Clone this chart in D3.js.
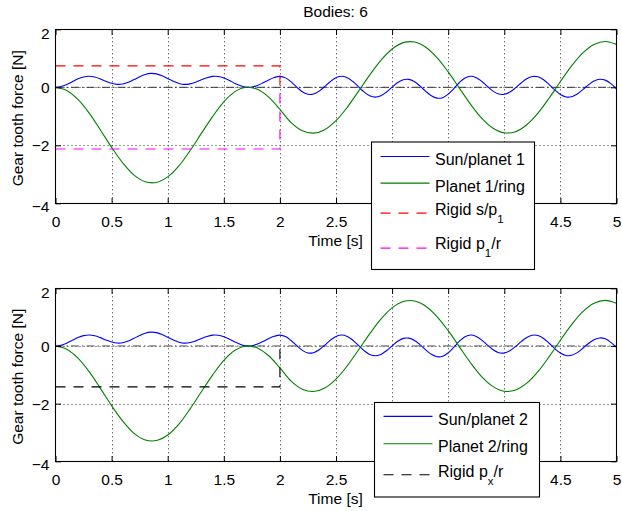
<!DOCTYPE html>
<html><head><meta charset="utf-8">
<script src="https://cdn.jsdelivr.net/npm/d3@7"></script>
<style>
html,body{margin:0;padding:0;background:#fff;}
svg{display:block;font-family:"Liberation Sans",Arial,Helvetica,sans-serif;}
</style></head><body>
<svg id="chart" width="622" height="511"></svg>
<script>
// ---------------- data ----------------
const title = "Bodies: 6";
const xLabel = "Time [s]";
const yLabel = "Gear tooth force [N]";
const xTicks = [0, 0.5, 1, 1.5, 2, 2.5, 3, 3.5, 4, 4.5, 5];
const yTicks = [-4, -2, 0, 2];

const timeFine = [0,0.05,0.1,0.15,0.2,0.25,0.3,0.35,0.4,0.45,
  0.5,0.55,0.6,0.65,0.7,0.75,0.8,0.85,0.9,0.95,
  1,1.05,1.1,1.15,1.2,1.25,1.3,1.35,1.4,1.45,
  1.5,1.55,1.6,1.65,1.7,1.75,1.8,1.85,1.9,1.95,
  2,2.05,2.1,2.15,2.2,2.25,2.3,2.35,2.4,2.45,
  2.5,2.55,2.6,2.65,2.7,2.75,2.8,2.85,2.9,2.95,
  3,3.05,3.1,3.15,3.2,3.25,3.3,3.35,3.4,3.45,
  3.5,3.55,3.6,3.65,3.7,3.75,3.8,3.85,3.9,3.95,
  4,4.05,4.1,4.15,4.2,4.25,4.3,4.35,4.4,4.45,
  4.5,4.55,4.6,4.65,4.7,4.75,4.8,4.85,4.9,4.95,5];
const timeCoarse = [0,0.1,0.2,0.3,0.4,0.5,0.6,0.7,0.8,0.9,
  1,1.1,1.2,1.3,1.4,1.5,1.6,1.7,1.8,1.9,
  2,2.1,2.2,2.3,2.4,2.5,2.6,2.7,2.8,2.9,
  3,3.1,3.2,3.3,3.4,3.5,3.6,3.7,3.8,3.9,
  4,4.1,4.2,4.3,4.4,4.5,4.6,4.7,4.8,4.9,5];

const sunPlanet1 = [0,0.026,0.098,0.195,0.291,0.358,0.380,0.354,0.289,0.207,
  0.137,0.101,0.113,0.173,0.265,0.364,0.442,0.479,0.463,0.398,
  0.304,0.206,0.132,0.100,0.118,0.177,0.257,0.331,0.376,0.373,
  0.322,0.235,0.135,0.051,0.004,0.009,0.065,0.155,0.255,0.335,
  0.377,0.325,0.188,0.009,-0.152,-0.242,-0.232,-0.131,0.030,0.202,
  0.332,0.380,0.332,0.200,0.020,-0.160,-0.292,-0.340,-0.292,-0.164,
  0.005,0.163,0.263,0.272,0.190,0.038,-0.138,-0.290,-0.372,-0.359,
  -0.237,-0.043,0.165,0.322,0.380,0.331,0.202,0.030,-0.132,-0.233,
  -0.242,-0.164,-0.019,0.149,0.294,0.372,0.362,0.261,0.095,-0.091,
  -0.247,-0.332,-0.324,-0.230,-0.080,0.085,0.217,0.278,0.247,0.126,-0.05];
const planet1Ring = [0,-0.11,-0.42,-0.89,-1.47,-2.07,-2.61,-3.03,-3.26,-3.28,
  -3.09,-2.71,-2.18,-1.59,-1.01,-0.50,-0.15,0.00,-0.07,-0.34,
  -0.76,-1.22,-1.50,-1.58,-1.46,-1.15,-0.69,-0.14,0.42,0.93,
  1.32,1.54,1.56,1.38,1.02,0.53,-0.03,-0.59,-1.07,-1.41,
  -1.57,-1.53,-1.29,-0.89,-0.37,0.20,0.74,1.19,1.48,1.58,1.48];
// second panel: visually identical curves
const sunPlanet2 = [0,0.026,0.098,0.195,0.291,0.358,0.380,0.354,0.289,0.207,
  0.137,0.101,0.113,0.173,0.265,0.364,0.442,0.479,0.463,0.398,
  0.304,0.206,0.132,0.100,0.118,0.177,0.257,0.331,0.376,0.373,
  0.322,0.235,0.135,0.051,0.004,0.009,0.065,0.155,0.255,0.335,
  0.377,0.325,0.188,0.009,-0.152,-0.242,-0.232,-0.131,0.030,0.202,
  0.332,0.380,0.332,0.200,0.020,-0.160,-0.292,-0.340,-0.292,-0.164,
  0.005,0.163,0.263,0.272,0.190,0.038,-0.138,-0.290,-0.372,-0.359,
  -0.237,-0.043,0.165,0.322,0.380,0.331,0.202,0.030,-0.132,-0.233,
  -0.242,-0.164,-0.019,0.149,0.294,0.372,0.362,0.261,0.095,-0.091,
  -0.247,-0.332,-0.324,-0.230,-0.080,0.085,0.217,0.278,0.247,0.126,-0.05];
const planet2Ring = [0,-0.11,-0.42,-0.89,-1.47,-2.07,-2.61,-3.03,-3.26,-3.28,
  -3.09,-2.71,-2.18,-1.59,-1.01,-0.50,-0.15,0.00,-0.07,-0.34,
  -0.76,-1.22,-1.50,-1.58,-1.46,-1.15,-0.69,-0.14,0.42,0.93,
  1.32,1.54,1.56,1.38,1.02,0.53,-0.03,-0.59,-1.07,-1.41,
  -1.57,-1.53,-1.29,-0.89,-0.37,0.20,0.74,1.19,1.48,1.58,1.48];

const rigidTime = [0, 2, 2];
const rigidSP1 = [0.74, 0.74, 0];
const rigidP1R = [-2.13, -2.13, 0];
const rigidPxR = [-1.42, -1.42, 0];
const zeroTime = [0, 5];
const zeroValue = [0, 0];

const legendTop = ["Sun/planet 1", "Planet 1/ring", "Rigid s/p_1", "Rigid p_1/r"];
const legendBottom = ["Sun/planet 2", "Planet 2/ring", "Rigid p_x/r"];

// ---------------- layout / style ----------------
const svg = d3.select("#chart");
const FONT = 15.5;
const X0 = 55.5, X1 = 616.5;
const x = d3.scaleLinear().domain([0, 5]).range([X0, X1]);
const BLUE = "#0000ff", GREEN = "#008000", RED = "#ff0000", MAG = "#ff00ff", BLACK = "#000";

svg.append("rect").attr("width", 622).attr("height", 511).attr("fill", "#fff");

svg.append("text").attr("x", 335.5).attr("y", 16.5).attr("text-anchor", "middle")
  .attr("font-size", FONT).text(title);

function zip(ts, vs) { return ts.map((t, i) => [t, vs[i]]); }

function panel(id, top, bottom, series, legend, legendBox) {
  const y = d3.scaleLinear().domain([-4, 2]).range([bottom, top]);
  const g = svg.append("g");
  const clipId = "clip" + id;
  g.append("clipPath").attr("id", clipId).append("rect")
    .attr("x", X0).attr("y", top).attr("width", X1 - X0).attr("height", bottom - top);

  // grid
  const grid = g.append("g").attr("stroke", "#000").attr("stroke-width", 0.8)
    .attr("stroke-dasharray", "1,3");
  xTicks.slice(1, -1).forEach(v => grid.append("line")
    .attr("x1", Math.round(x(v)) + 0.5).attr("x2", Math.round(x(v)) + 0.5)
    .attr("y1", top).attr("y2", bottom));
  yTicks.slice(1, -1).forEach(v => grid.append("line")
    .attr("y1", Math.round(y(v)) + 0.5).attr("y2", Math.round(y(v)) + 0.5)
    .attr("x1", X0).attr("x2", X1));

  const line = d3.line().x(d => x(d[0])).y(d => y(d[1]));
  const smooth = d3.line().x(d => x(d[0])).y(d => y(d[1])).curve(d3.curveCatmullRom.alpha(0.5));
  const plot = g.append("g").attr("clip-path", `url(#${clipId})`).attr("fill", "none");

  series.forEach(s => {
    plot.append("path").datum(zip(s.t, s.v))
      .attr("d", s.smooth ? smooth : line)
      .attr("stroke", s.color).attr("stroke-width", s.width || 1.1)
      .attr("stroke-dasharray", s.dash || null);
  });

  // box
  g.append("rect").attr("x", X0).attr("y", Math.round(top) + 0.5)
    .attr("width", X1 - X0).attr("height", Math.round(bottom) - Math.round(top))
    .attr("fill", "none").attr("stroke", "#000").attr("stroke-width", 1.1);

  // axes with inside ticks
  const TL = 5.5;
  const xAxisB = d3.axisBottom(x).tickValues(xTicks).tickSize(-TL).tickPadding(14)
    .tickFormat(d3.format("~g"));
  const gx = g.append("g").attr("transform", `translate(0,${Math.round(bottom) + 0.5})`).call(xAxisB);
  const xAxisT = d3.axisTop(x).tickValues(xTicks).tickSize(-TL).tickFormat("");
  const gxt = g.append("g").attr("transform", `translate(0,${Math.round(top) + 0.5})`).call(xAxisT);
  const yAxisL = d3.axisLeft(y).tickValues(yTicks).tickSize(-TL).tickPadding(6)
    .tickFormat(d3.format("~g"));
  const gy = g.append("g").attr("transform", `translate(${X0},0)`).call(yAxisL);
  const yAxisR = d3.axisRight(y).tickValues(yTicks).tickSize(-TL).tickFormat("");
  const gyr = g.append("g").attr("transform", `translate(${X1},0)`).call(yAxisR);
  [gx, gxt, gy, gyr].forEach(a => {
    a.select(".domain").remove();
    a.selectAll("text").attr("font-size", FONT).attr("font-family", "Liberation Sans, Arial, sans-serif").attr("fill", "#000");
    a.selectAll("line").attr("stroke", "#000");
  });
  gx.selectAll("text").attr("dy", null).attr("y", 23.5);
  // tick labels hidden behind the legend box in the reference are not drawn
  gx.selectAll(".tick").filter(d => x(d) > legendBox.x && x(d) < legendBox.x + legendBox.w)
    .select("text").remove();
  gy.selectAll(".tick text").attr("dy", "0.35em")
    .attr("y", d => d === 2 ? 4 : (d === -4 ? 3 : 0));

  g.append("text").attr("x", 335.5).attr("y", bottom + 42.5).attr("text-anchor", "middle")
    .attr("font-size", FONT).text(xLabel);
  g.append("text").attr("transform", `translate(23,${(top + bottom) / 2 + 2}) rotate(-90)`)
    .attr("text-anchor", "middle").attr("font-size", FONT).text(yLabel);

  // legend
  const lg = g.append("g").attr("transform", `translate(${legendBox.x},${legendBox.y})`);
  lg.append("rect").attr("x", 0.5).attr("y", 0.5).attr("width", legendBox.w).attr("height", legendBox.h)
    .attr("fill", "#fff").attr("stroke", "#000").attr("stroke-width", 1.1);
  legend.forEach((label, i) => {
    const s = series[legendBox.order[i]];
    const ly = legendBox.lineY[i];
    lg.append("line").attr("x1", 9.5).attr("x2", 58.5).attr("y1", ly).attr("y2", ly)
      .attr("stroke", s.color).attr("stroke-width", 1.1).attr("stroke-dasharray", s.dash || null);
    const t = lg.append("text").attr("x", 64).attr("y", legendBox.textY[i]).attr("font-size", 16);
    const m = label.match(/^(.*)_(\w)(.*)$/);
    if (m) {
      t.append("tspan").text(m[1]);
      t.append("tspan").attr("dy", 8).attr("font-size", 11.5).text(m[2]);
      if (m[3]) t.append("tspan").attr("dy", -8).text(m[3]);
    } else {
      t.text(label);
    }
  });
}

const DASH = "10,8", DASHDOT = "8,3,1.5,3";

panel("top", 29.3, 203.3, [
  { t: zeroTime, v: zeroValue, color: "#333", dash: DASHDOT, width: 1 },
  { t: timeFine, v: sunPlanet1, color: BLUE, smooth: true },
  { t: timeCoarse, v: planet1Ring, color: GREEN, smooth: true },
  { t: rigidTime, v: rigidSP1, color: RED, dash: DASH },
  { t: rigidTime, v: rigidP1R, color: MAG, dash: DASH }
], legendTop, { x: 371, y: 141.5, w: 163, h: 127.5, order: [1, 2, 3, 4],
  lineY: [15, 41.6, 71.6, 106.6], textY: [23.3, 50.6, 73.3, 107.3] });

panel("bot", 288.3, 461.3, [
  { t: zeroTime, v: zeroValue, color: "#555", dash: DASHDOT, width: 1 },
  { t: timeFine, v: sunPlanet2, color: BLUE, smooth: true },
  { t: timeCoarse, v: planet2Ring, color: GREEN, smooth: true },
  { t: rigidTime, v: rigidPxR, color: BLACK, dash: DASH }
], legendBottom, { x: 374, y: 402, w: 165, h: 94.5, order: [1, 2, 3],
  lineY: [14.4, 41.7, 72.7], textY: [22.7, 50.4, 75] });
</script>
</body></html>
